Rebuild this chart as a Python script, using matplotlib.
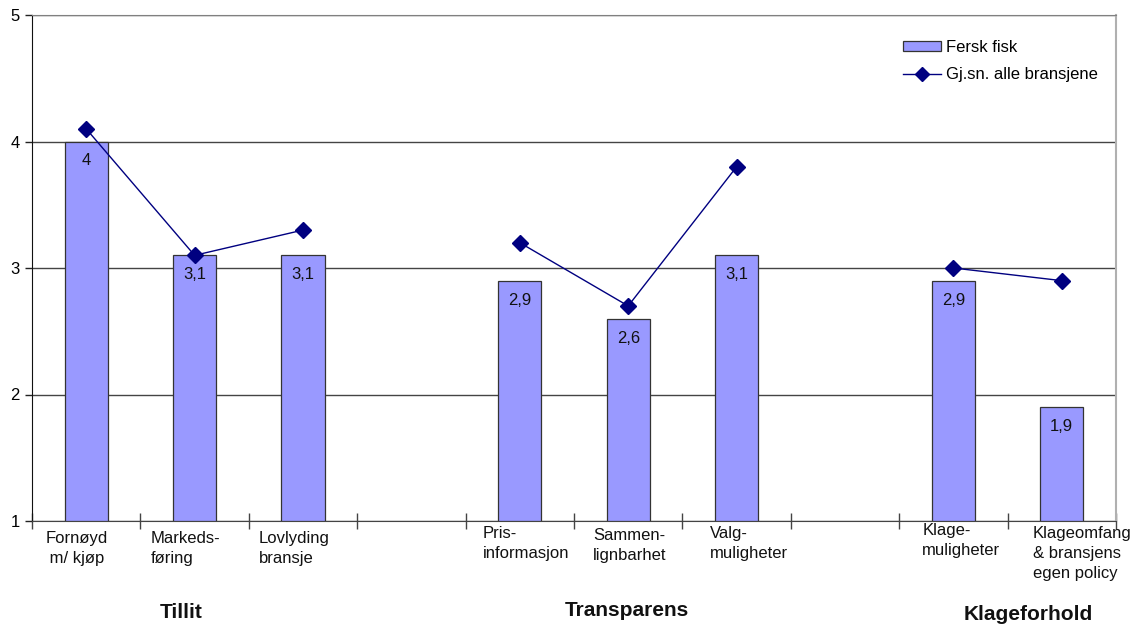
import numpy as np
import matplotlib
matplotlib.use("Agg")
import matplotlib.pyplot as plt
from matplotlib.lines import Line2D
from matplotlib.patches import Patch

plt.rcParams['font.family'] = ['Liberation Sans', 'DejaVu Sans']

# kategorier (tomme plasser skiller gruppene)
kategorier = ["Fornøyd\n m/ kjøp", "Markeds-\nføring", "Lovlyding\nbransje", "",
              "Pris-\ninformasjon", "Sammen-\nlignbarhet", "Valg-\nmuligheter", "",
              "Klage-\nmuligheter", "Klageomfang\n& bransjens\negen policy"]
fersk_fisk = [4.0, 3.1, 3.1, np.nan, 2.9, 2.6, 3.1, np.nan, 2.9, 1.9]
snitt_alle = [4.1, 3.1, 3.3, np.nan, 3.2, 2.7, 3.8, np.nan, 3.0, 2.9]
grupper = ["Tillit", "Transparens", "Klageforhold"]

bar_farge = "#9999FF"
linje_farge = "#000080"
W, H = 1134, 627

fig = plt.figure(figsize=(W / 100, H / 100), dpi=100)
ax = fig.add_axes([32 / W, 1 - 521 / H, (1116 - 32) / W, (521 - 15) / H])

x = np.arange(len(kategorier))
fisk = np.array(fersk_fisk)
har_verdi = ~np.isnan(fisk)

# stolper for Fersk fisk, bunn ved 1
ax.bar(x[har_verdi], fisk[har_verdi] - 1, bottom=1, width=0.4,
       color=bar_farge, edgecolor="#333333", linewidth=0.9, zorder=3)
for xi, v in zip(x[har_verdi], fisk[har_verdi]):
    ax.annotate(f"{v:g}".replace(".", ","), (xi, v), xytext=(0, -14),
                textcoords="offset points", ha="center", va="center",
                fontsize=12, color="#111111", zorder=5)

# snitt for alle bransjer, brudd ved tomme plasser
ax.plot(x, snitt_alle, color=linje_farge, linewidth=1.0, marker="D",
        markersize=8.5, markerfacecolor=linje_farge, markeredgecolor=linje_farge,
        zorder=4)

ax.set_xlim(-0.5, len(kategorier) - 0.5)
ax.set_ylim(1, 5)
ax.set_yticks([1, 2, 3, 4, 5])
ax.yaxis.grid(True, color="#444444", linewidth=1.0, zorder=0)
ax.set_axisbelow(True)
ax.tick_params(axis="y", direction="out", length=5, width=1, labelsize=12,
               pad=4, color="#222222")

# delestreker mellom kategoriene, navn under hver plass (venstrejustert blokk)
ax.set_xticks(x)
ax.set_xticklabels([])
ax.set_xticks(np.arange(len(kategorier) + 1) - 0.5, minor=True)
ax.tick_params(axis="x", which="major", length=0)
ax.tick_params(axis="x", which="minor", direction="inout", length=12, width=1,
               color="#444444")
# forskyvning av tekstblokkens venstre kant og topp (piksler)
innrykk = [-41, -44, -44, 0, -37, -35, -27, 0, -31, -29]
loft = [0, 0, 0, 0, 5, 3, 5, 0, 8, 5]
for xi, navn, dx, dy in zip(x, kategorier, innrykk, loft):
    ax.annotate(navn, (xi, 0), xycoords=("data", "axes fraction"),
                xytext=(dx * 0.72, (-10 + dy) * 0.72), textcoords="offset points",
                ha="left", va="top", fontsize=12, linespacing=1.42,
                color="#111111")

ax.spines["top"].set_color("#808080")
ax.spines["right"].set_color("#b0b0b0")
ax.spines["right"].set_linewidth(1.5)
ax.spines["left"].set_color("#111111")
ax.spines["bottom"].set_color("#444444")

for navn, gx, gy in zip(grupper, [181, 627, 1028], [612, 611, 615]):
    fig.text(gx / W, 1 - gy / H, navn, ha="center", va="center",
             fontsize=15, fontweight="bold", color="#111111")

handles = [Patch(facecolor=bar_farge, edgecolor="#333333", linewidth=0.9),
           Line2D([], [], color=linje_farge, linewidth=1.0, marker="D",
                  markersize=7, markerfacecolor=linje_farge)]
ax.legend(handles, ["Fersk fisk", "Gj.sn. alle bransjene"], loc="upper left",
          bbox_to_anchor=(896 / W, 1 - 33 / H), bbox_transform=fig.transFigure,
          frameon=False, fontsize=12, handlelength=2.3, handleheight=0.6,
          labelspacing=0.75, handletextpad=0.3, borderaxespad=0, borderpad=0.4)

fig.savefig("out.png", dpi=100)
